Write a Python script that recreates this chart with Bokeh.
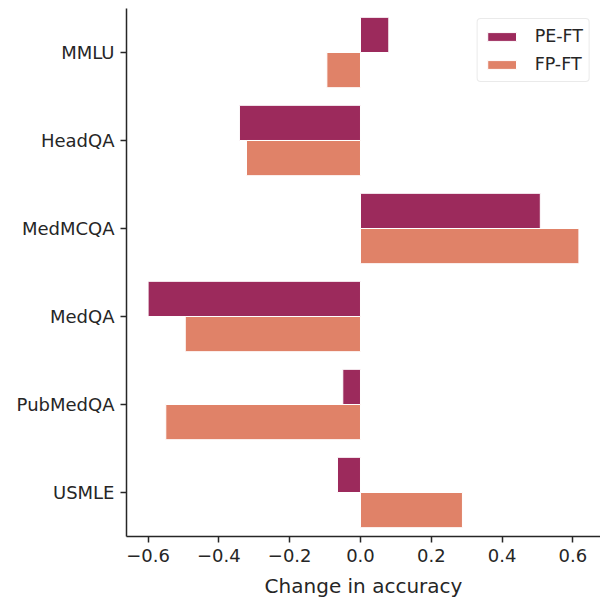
from bokeh.plotting import figure
from bokeh.models import FactorRange, FixedTicker, CustomJSTickFormatter, Legend, LegendItem
from bokeh.transform import dodge
from bokeh.embed import file_html
from bokeh.resources import INLINE
from bokeh.models import ColumnDataSource

categories = ["MMLU", "HeadQA", "MedMCQA", "MedQA", "PubMedQA", "USMLE"]
pe_ft = [0.080, -0.342, 0.508, -0.600, -0.050, -0.065]
fp_ft = [-0.095, -0.322, 0.617, -0.495, -0.550, 0.288]
series_names = ["PE-FT", "FP-FT"]
x_ticks = [-0.6, -0.4, -0.2, 0.0, 0.2, 0.4, 0.6]

PE_COLOR = "#9c2a5c"
FP_COLOR = "#e08268"
TEXT = "#262626"
FONT = "DejaVu Sans"

src = ColumnDataSource(dict(cat=categories, pe=pe_ft, fp=fp_ft))

p = figure(width=600, height=602, output_backend="svg", toolbar_location=None,
           y_range=FactorRange(factors=list(reversed(categories))),
           x_range=(-0.661, 0.678),
           min_border_left=126, min_border_right=0, min_border_top=8, min_border_bottom=66)

r_pe = p.hbar(y=dodge("cat", 0.2, range=p.y_range), right="pe", left=0, height=0.4,
              source=src, fill_color=PE_COLOR, line_color="white", line_width=1)
r_fp = p.hbar(y=dodge("cat", -0.2, range=p.y_range), right="fp", left=0, height=0.4,
              source=src, fill_color=FP_COLOR, line_color="white", line_width=1)

p.grid.visible = False
p.outline_line_color = None
p.background_fill_color = "white"
p.border_fill_color = "white"

for ax in (p.xaxis[0], p.yaxis[0]):
    ax.axis_line_color = TEXT
    ax.axis_line_width = 1.5
    ax.major_tick_line_color = TEXT
    ax.major_tick_line_width = 1.5
    ax.major_tick_out = 6
    ax.major_tick_in = 0
    ax.minor_tick_line_color = None
    ax.major_label_text_font = FONT
    ax.major_label_text_font_size = "18px"
    ax.major_label_text_color = TEXT
    ax.major_label_standoff = 6

p.xaxis.ticker = FixedTicker(ticks=x_ticks)
p.xaxis.formatter = CustomJSTickFormatter(code="return tick.toFixed(1).replace('-', '\u2212');")
p.xaxis.axis_label = "Change in accuracy"
p.xaxis.axis_label_text_font = FONT
p.xaxis.axis_label_text_font_size = "20px"
p.xaxis.axis_label_text_font_style = "normal"
p.xaxis.axis_label_text_color = TEXT
p.xaxis.axis_label_standoff = 9

legend = Legend(items=[LegendItem(label=series_names[0], renderers=[r_pe]),
                       LegendItem(label=series_names[1], renderers=[r_fp])],
                location="top_right")
legend.label_text_font = FONT
legend.label_text_font_size = "17.5px"
legend.label_text_color = TEXT
legend.glyph_width = 36
legend.glyph_height = 11
legend.label_height = 22
legend.spacing = 6
legend.label_standoff = 15
legend.padding = 6
legend.margin = 10
legend.border_line_color = "#d6d6d6"
legend.border_line_width = 1
legend.border_radius = 4
legend.background_fill_alpha = 0.8
p.add_layout(legend)

open("out.html", "w").write(file_html(p, INLINE))
